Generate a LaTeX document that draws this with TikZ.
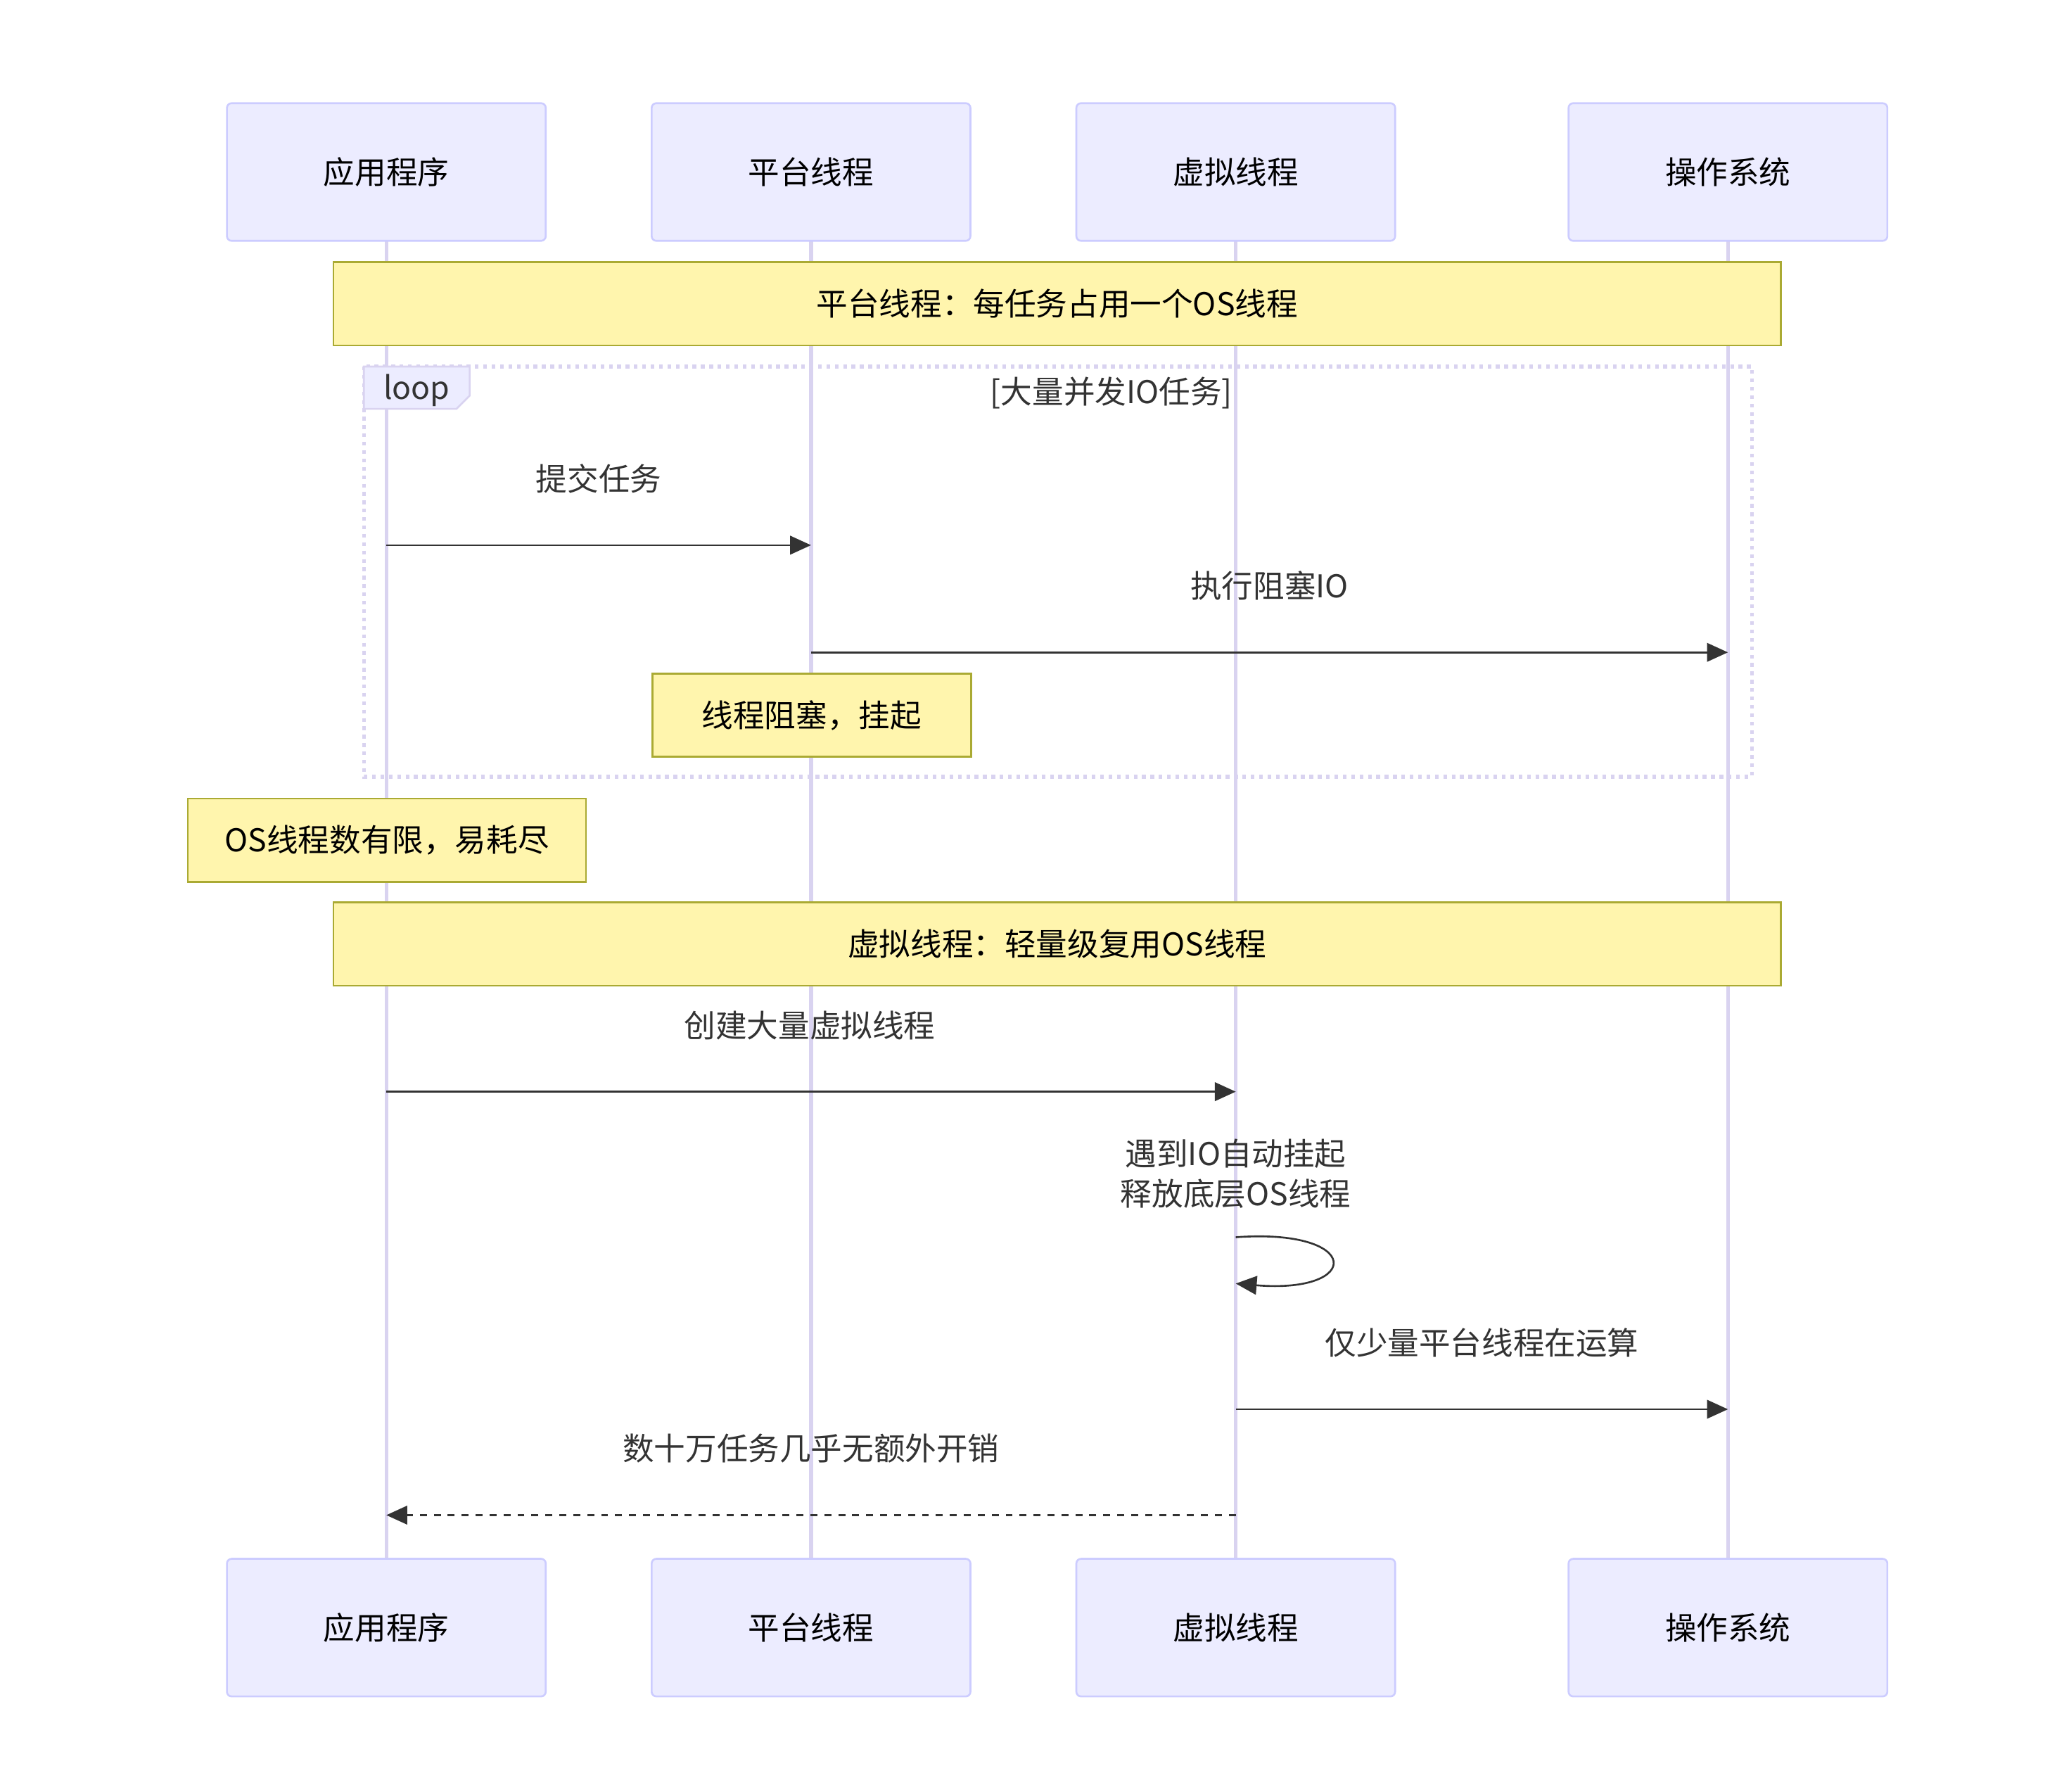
\documentclass[tikz,border=0pt]{standalone}
\usepackage{fontspec}
\setmainfont{Noto Sans CJK SC}
\usetikzlibrary{arrows.meta}
\definecolor{actorfill}{HTML}{ECECFF}
\definecolor{actorline}{HTML}{CCCCFF}
\definecolor{lifeline}{HTML}{D9D3F0}
\definecolor{notefill}{HTML}{FFF5AD}
\definecolor{noteline}{HTML}{AAAA33}
\definecolor{msg}{HTML}{333333}
\tikzset{
  actor/.style={draw=actorline, fill=actorfill, rounded corners=2pt, thick,
    minimum width=4.82cm, minimum height=2.08cm, inner sep=0pt},
  note/.style={draw=noteline, fill=notefill, thick, minimum height=1.26cm, inner sep=0pt},
  lbl/.style={text=msg, inner sep=0pt},
  call/.style={draw=msg, thick, -{Triangle[length=9pt,width=8pt]}},
  reply/.style={call, dashed}
}
\begin{document}
\fontsize{13.5}{17}\selectfont
\begin{tikzpicture}[x=0.02cm, y=-0.02cm]
  \useasboundingbox (0,0) rectangle (1560,1354);
  % actors
  \foreach \n/\x/\t in {app/292/应用程序, pt/613/平台线程, vt/934/虚拟线程, os/1306/操作系统}{
    \draw[lifeline, line width=1.6pt] (\x,182) -- (\x,1178);
    \node[actor] (\n top) at (\x,130) {\t};
    \node[actor] (\n bot) at (\x,1230) {\t};
  }
  % first note
  \node[note, minimum width=21.88cm] (ptnote) at (799,229.5) {平台线程：每任务占用一个OS线程};
  % loop frame
  \draw[lifeline, line width=1.6pt, dotted] (275,277) rectangle (1324,587);
  \draw[lifeline, fill=actorfill, thick] (275,277) -- (355,277) -- (355,299) -- (345,309) -- (275,309) -- cycle;
  \node[lbl] (looplbl) at (315,295) {loop};
  \node[lbl] (loopcond) at (840,297) {[大量并发IO任务]};
  % messages
  \coordinate (m1a) at (292,412); \coordinate (m1b) at (613,412);
  \draw[call] (m1a) -- (m1b) node[lbl, midway, above=22pt] {提交任务};
  \coordinate (m2a) at (613,493); \coordinate (m2b) at (1306,493);
  \draw[call] (m2a) -- (m2b) node[lbl, pos=0.5, above=22pt, xshift=0.0cm] {执行阻塞IO};
  \node[note, minimum width=4.82cm] (blocknote) at (613.5,540.5) {线程阻塞，挂起};
  \node[note, minimum width=6.02cm] (limitnote) at (292.5,635) {OS线程数有限，易耗尽};
  \node[note, minimum width=21.88cm] (vtnote) at (799,713.5) {虚拟线程：轻量级复用OS线程};
  \coordinate (m3a) at (292,825); \coordinate (m3b) at (934,825);
  \draw[call] (m3a) -- (m3b) node[lbl, midway, above=22pt, xshift=-0.02cm] {创建大量虚拟线程};
  \node[lbl, align=center] (selflbl) at (934,887) {遇到IO自动挂起\\释放底层OS线程};
  \coordinate (s1) at (934,935); \coordinate (s2) at (934,970);
  \draw[call] (s1) .. controls (1030,928) and (1030,978) .. (s2);
  \coordinate (m4a) at (934,1065); \coordinate (m4b) at (1306,1065);
  \draw[call] (m4a) -- (m4b) node[lbl, midway, above=22pt] {仅少量平台线程在运算};
  \coordinate (m5a) at (934,1145); \coordinate (m5b) at (292,1145);
  \draw[reply] (m5a) -- (m5b) node[lbl, midway, above=22pt] {数十万任务几乎无额外开销};
\end{tikzpicture}
\end{document}
